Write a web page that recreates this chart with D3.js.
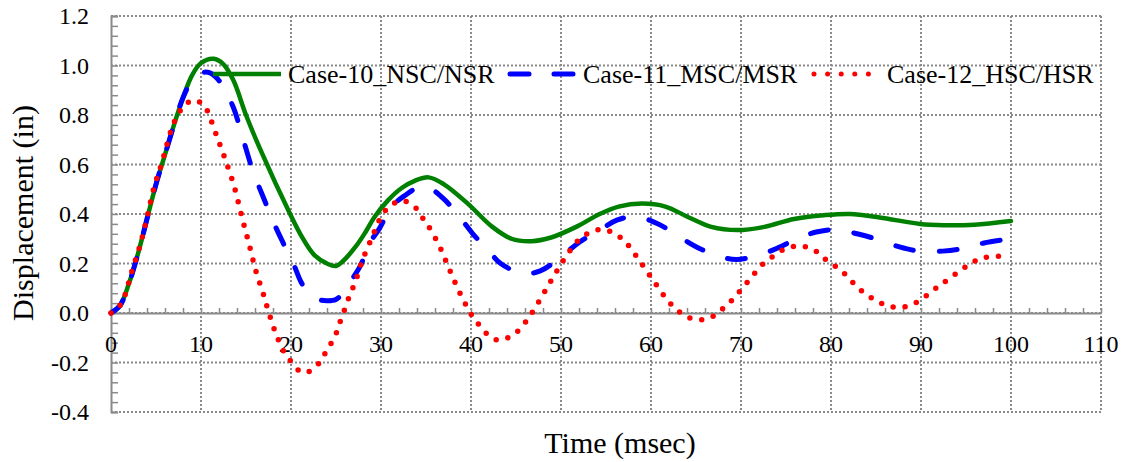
<!DOCTYPE html>
<html>
<head>
<meta charset="utf-8">
<script src="https://cdn.jsdelivr.net/npm/d3@7"></script>
<style>
  body { margin: 0; background: #fff; }
</style>
</head>
<body>
<div id="chart"></div>
<script>
// values, [time msec, displacement in]
const seriesNames = ["Case-10_NSC/NSR", "Case-11_MSC/MSR", "Case-12_HSC/HSR"]

const case10 = [[0,0],[1,0.03],[2,0.12],[3,0.24],[4,0.38],[5,0.52],[6,0.64],[7,0.76],[8,0.87],[9,0.96],
  [10,1.01],[11.4,1.027],[12.5,1.005],[13.6,0.94],[15,0.80],[16.6,0.66],[19.9,0.40],[21.1,0.315],
  [22.6,0.234],[24.1,0.198],[25,0.19],[25.7,0.207],[27.2,0.269],[28.3,0.328],[29.3,0.389],[30.8,0.456],
  [32.3,0.505],[33.8,0.535],[35.3,0.548],[37,0.52],[39.7,0.44],[42.3,0.35],[44.5,0.30],[46.7,0.29],
  [48.9,0.305],[51.8,0.35],[54.3,0.40],[56.4,0.43],[59,0.442],[61.6,0.43],[64.1,0.388],[66.7,0.348],
  [69.6,0.335],[72.6,0.348],[75.9,0.38],[79.2,0.395],[82.1,0.40],[85.4,0.386],[89.9,0.36],[92.5,0.355],
  [95.9,0.357],[100,0.372]]

const case11 = [[0,0],[1,0.03],[2,0.12],[3,0.24],[4,0.38],[5,0.52],[6,0.64],[7,0.76],[8,0.87],[9,0.94],
  [10,0.97],[11,0.97],[12.2,0.93],[13.6,0.83],[14.7,0.70],[15.8,0.57],[16.9,0.47],[18.2,0.355],[19.3,0.27],
  [20.4,0.187],[21.1,0.126],[22,0.08],[23,0.055],[24,0.05],[25,0.055],[26,0.09],[26.6,0.126],[27.7,0.19],
  [28.7,0.28],[29.8,0.34],[31.2,0.43],[32.7,0.476],[34.3,0.51],[35.3,0.507],[37,0.46],[38.7,0.39],
  [40.2,0.32],[42,0.25],[43.3,0.20],[45.7,0.16],[47.7,0.17],[50,0.227],[52,0.285],[54.3,0.335],
  [56.2,0.375],[58.3,0.39],[60.8,0.36],[63.2,0.307],[64.9,0.27],[67.5,0.23],[69.5,0.216],[72,0.234],
  [74.1,0.263],[76.5,0.305],[78.5,0.328],[80.7,0.337],[82.9,0.32],[85.2,0.297],[87.6,0.267],[89.8,0.25],
  [92.4,0.25],[94.6,0.26],[97,0.283],[100,0.30]]

const case12 = [[0,0],[1,0.03],[1.56,0.073],[2.3,0.167],[3.2,0.27],[3.9,0.37],[4.8,0.51],[5.6,0.60],
  [6.7,0.74],[7.4,0.80],[8.1,0.836],[9.1,0.86],[10.3,0.84],[10.9,0.80],[11.4,0.75],[11.9,0.70],[12.3,0.66],
  [12.8,0.61],[13.7,0.51],[14.6,0.38],[15.4,0.27],[16.1,0.17],[16.9,0.08],[17.3,0.03],[18.1,-0.062],
  [18.6,-0.109],[19.2,-0.156],[20,-0.196],[20.9,-0.233],[21.5,-0.24],[22.2,-0.233],[23.2,-0.199],
  [23.9,-0.156],[24.6,-0.113],[25.2,-0.066],[25.6,-0.019],[26.1,0.028],[26.6,0.08],[27.1,0.12],[27.9,0.21],
  [29,0.305],[30.1,0.395],[31.1,0.435],[32.3,0.453],[33.6,0.435],[34.4,0.395],[35.2,0.355],[36.5,0.27],
  [37.6,0.176],[38.7,0.086],[40,-0.004],[40.8,-0.044],[41.7,-0.082],[42.9,-0.109],[44.1,-0.10],
  [45.2,-0.073],[46.1,-0.035],[47.6,0.05],[49,0.137],[50.4,0.22],[52.1,0.30],[53.5,0.33],[54.8,0.337],
  [56.1,0.318],[57.2,0.285],[58.8,0.207],[60.4,0.124],[62,0.044],[63,0.009],[64.1,-0.017],[65.5,-0.028],
  [66.8,-0.015],[67.9,0.015],[68.9,0.048],[70.7,0.124],[72.5,0.20],[73.6,0.23],[74.8,0.258],[76.1,0.27],
  [77.4,0.265],[78.6,0.243],[79.6,0.21],[81,0.176],[82,0.14],[82.9,0.106],[84,0.073],[85.2,0.046],
  [86.4,0.028],[87.8,0.023],[89.1,0.036],[90.3,0.062],[91.4,0.093],[92.5,0.122],[94.8,0.183],[96,0.21],
  [97.2,0.225],[98.8,0.23]]

const xTicks = [0, 10, 20, 30, 40, 50, 60, 70, 80, 90, 100, 110]
const yTicks = [-0.4, -0.2, 0, 0.2, 0.4, 0.6, 0.8, 1.0, 1.2]

function drawChart() {

  let dimensions = {
    width: 1125, height: 462,
    margin: { top: 16, right: 24, bottom: 50, left: 111 },
  }
  dimensions.boundedWidth = dimensions.width - dimensions.margin.left - dimensions.margin.right
  dimensions.boundedHeight = dimensions.height - dimensions.margin.top - dimensions.margin.bottom

  const svg = d3.select("#chart")
    .append("svg")
    .attr("width", dimensions.width)
    .attr("height", dimensions.height)
    .attr("font-family", "Liberation Serif")

  const g = svg.append("g")
    .attr("transform", `translate(${dimensions.margin.left},${dimensions.margin.top})`)

  const xScale = d3.scaleLinear().domain([0, 110]).range([0, dimensions.boundedWidth])
  const yScale = d3.scaleLinear().domain([-0.4, 1.2]).range([dimensions.boundedHeight, 0])

  const gridColor = "#8a8a8a"

  // dotted grid, incl. the top / right / bottom borders
  g.append("g").selectAll("line").data(xTicks.slice(1)).enter().append("line")
    .attr("x1", d => xScale(d)).attr("x2", d => xScale(d))
    .attr("y1", 0).attr("y2", dimensions.boundedHeight)
    .attr("stroke", gridColor).attr("stroke-width", 2).attr("stroke-dasharray", "2,2")
  g.append("g").selectAll("line").data(yTicks).enter().append("line")
    .attr("x1", 0).attr("x2", dimensions.boundedWidth)
    .attr("y1", d => yScale(d)).attr("y2", d => yScale(d))
    .attr("stroke", gridColor).attr("stroke-width", 2).attr("stroke-dasharray", "2,2")

  // y axis with minor ticks pointing inwards
  const yAxis = g.append("g")
    .call(d3.axisRight(yScale).tickValues(d3.range(-0.4, 1.2001, 0.04)).tickSize(7).tickFormat(""))
  yAxis.select(".domain").attr("stroke", gridColor).attr("stroke-width", 2)
  yAxis.selectAll(".tick line").attr("stroke", gridColor).attr("stroke-width", 1.5)

  g.append("g").selectAll("text").data(yTicks).enter().append("text")
    .attr("x", -22).attr("y", d => yScale(d)).attr("dy", "0.34em")
    .attr("text-anchor", "end")
    .attr("font-family", "Liberation Serif").style("font-size", "24px").attr("fill", "#000")
    .text(d => d.toFixed(1))

  // x axis on the zero line, ticks upward
  const xAxis = g.append("g")
    .attr("transform", `translate(0,${yScale(0)})`)
    .call(d3.axisBottom(xScale).tickValues(d3.range(0, 110.01, 2)).tickSize(-5).tickFormat("").tickSizeOuter(0))
  xAxis.select(".domain").attr("stroke", gridColor).attr("stroke-width", 2)
  xAxis.selectAll(".tick line").attr("stroke", gridColor).attr("stroke-width", 1.5)

  g.append("g").selectAll("text").data(xTicks).enter().append("text")
    .attr("x", d => xScale(d)).attr("y", yScale(0) + 39)
    .attr("text-anchor", "middle")
    .attr("font-family", "Liberation Serif").style("font-size", "24px").attr("fill", "#000")
    .text(d => d)

  // axis titles
  svg.append("text")
    .attr("transform", "translate(33,213) rotate(-90)")
    .attr("text-anchor", "middle")
    .attr("font-family", "Liberation Serif").style("font-size", "30px")
    .text("Displacement (in)")
  svg.append("text")
    .attr("x", 620).attr("y", 453)
    .attr("text-anchor", "middle")
    .attr("font-family", "Liberation Serif").style("font-size", "30px")
    .text("Time (msec)")

  const styles = [
    { color: "#008000", width: 4.5, dash: null, legendDash: null },
    { color: "#0000ff", width: 5, dash: "18,26", legendDash: "19,25" },
    { color: "#ff0000", width: 5.5, dash: "0,12", legendDash: "0,13.6" },
  ]
  const datasets = [case10, case11, case12]

  const line = d3.line()
    .x(d => xScale(d[0]))
    .y(d => yScale(d[1]))
    .curve(d3.curveCatmullRom.alpha(0.5))

  datasets.forEach(function(data, i) {
    g.append("path")
      .attr("d", line(data))
      .attr("fill", "none")
      .attr("stroke", styles[i].color)
      .attr("stroke-width", styles[i].width)
      .attr("stroke-linecap", "round")
      .attr("stroke-linejoin", "round")
      .attr("stroke-dasharray", styles[i].dash)
  })

  // legend in one row, sample line then label
  const legendX = [213, 508, 812]
  const ly = 74
  seriesNames.forEach(function(name, i) {
    svg.append("line")
      .attr("x1", legendX[i] + (i == 0 ? 0 : 2)).attr("x2", legendX[i] + 68)
      .attr("y1", ly).attr("y2", ly)
      .attr("stroke", styles[i].color)
      .attr("stroke-width", i == 0 ? 4.5 : 5)
      .attr("stroke-linecap", i == 0 ? "butt" : "round")
      .attr("stroke-dasharray", styles[i].legendDash)
    svg.append("text")
      .attr("x", legendX[i] + 75).attr("y", ly + 9)
      .attr("font-family", "Liberation Serif")
      .style("font-size", "26px")
      .text(name)
  })
}
drawChart()
</script>
</body>
</html>
